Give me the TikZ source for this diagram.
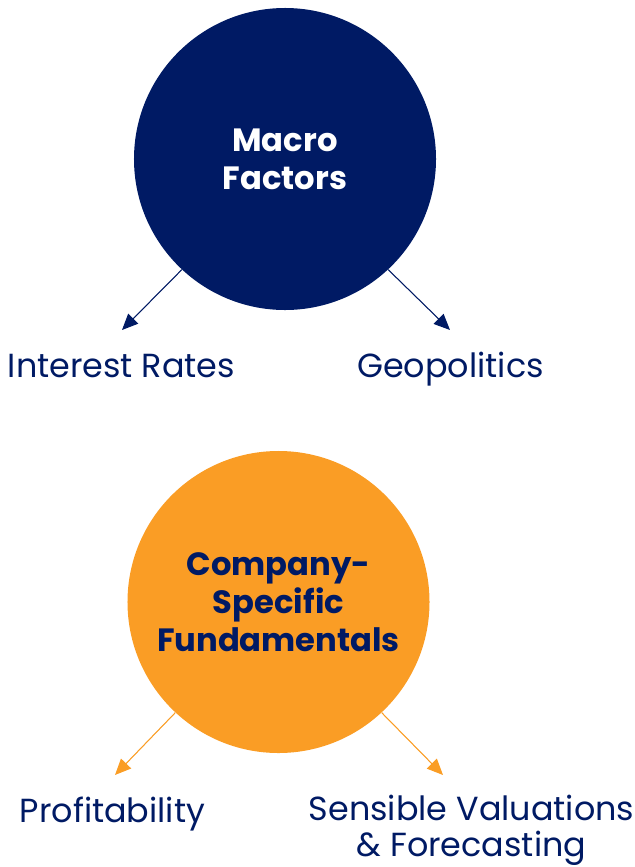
\documentclass[tikz,border=0pt]{standalone}
\usepackage{fontspec}
\setmainfont{Poppins}
\usetikzlibrary{arrows.meta}
\definecolor{navy}{RGB}{0,26,100}
\definecolor{amber}{RGB}{250,157,37}
\tikzset{
  bubble/.style={circle, minimum size=9.06cm, inner sep=0pt, align=center,
    font=\fontsize{27.5}{32.4}\selectfont\bfseries},
  leaf/.style={font=\fontsize{28.5}{30}\selectfont, text=navy, align=center,
    inner sep=0pt, anchor=base},
  branch/.style={line width=0.9pt, -{Triangle[length=0.48cm, width=0.42cm]}},
}

\begin{document}
\begin{tikzpicture}[x=0.03cm, y=-0.03cm]
\useasboundingbox (0,0) rectangle (634,867);
\node[bubble, fill=navy, text=white] (macro) at (285,159) {Macro\\Factors};
\node[bubble, fill=amber, text=navy] (company) at (278.5,602) {Company-\\Specific\\Fundamentals};
\node[leaf] (rates) at (121.5,377) {Interest Rates};
\node[leaf] (geo) at (450.5,377) {Geopolitics};
\node[leaf] (profit) at (112.5,822) {Profitability};
\node[leaf] (valuation) at (471.5,856) {Sensible Valuations\\\& Forecasting};
\coordinate (ratesTip) at (122,330);
\coordinate (geoTip) at (450,330);
\coordinate (profitTip) at (115,775);
\coordinate (valuationTip) at (443,775);
\draw[branch, draw=navy, fill=navy] (macro.227.7) -- (ratesTip);
\draw[branch, draw=navy, fill=navy] (macro.313) -- (geoTip);
\draw[branch, draw=amber, fill=amber] (company.227.7) -- (profitTip);
\draw[branch, draw=amber, fill=amber] (company.313) -- (valuationTip);
\end{tikzpicture}
\end{document}
